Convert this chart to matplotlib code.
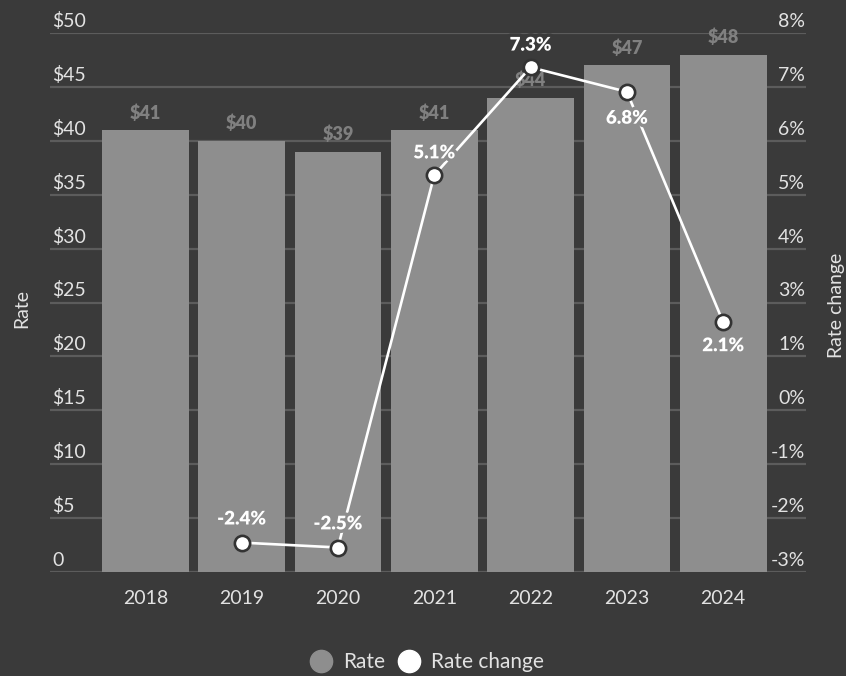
import numpy as np
import matplotlib
matplotlib.use('Agg')
import matplotlib.pyplot as plt
import matplotlib.patheffects as pe
from matplotlib.lines import Line2D
from matplotlib import transforms

years = ['2018', '2019', '2020', '2021', '2022', '2023', '2024']
rate = [41, 40, 39, 41, 44, 47, 48]
rate_change = [None, -2.4, -2.5, 5.1, 7.3, 6.8, 2.1]

rate_ticks = [0, 5, 10, 15, 20, 25, 30, 35, 40, 45, 50]
rate_tick_labels = ['0', '$5', '$10', '$15', '$20', '$25', '$30', '$35', '$40', '$45', '$50']
change_tick_labels = ['-3%', '-2%', '-1%', '0%', '1%', '3%', '4%', '5%', '6%', '7%', '8%']

BG = '#3a3a3a'
BAR = '#8e8e8e'
GRID = '#5c5c5c'
TXT = '#e2e2e2'

plt.rcParams['font.family'] = ['Lato', 'DejaVu Sans']

fig = plt.figure(figsize=(8.46, 6.76), dpi=100, facecolor=BG)
ax = fig.add_axes([50 / 846, 104 / 676, 756 / 846, 539 / 676])
ax.set_facecolor(BG)
x = np.arange(len(years))

# bars + gridlines on the left axis
ax.bar(x, rate, width=0.9, color=BAR, zorder=2)
ax.set_ylim(0, 50)
ax.set_xlim(-0.99, 6.86)
ax.set_yticks(rate_ticks)
ax.yaxis.grid(True, color=GRID, linewidth=1.6, zorder=0)
ax.set_axisbelow(True)
ax.tick_params(axis='y', length=0, labelleft=False)
ax.set_xticks(x)
ax.set_xticklabels(years, color=TXT, fontsize=14)
ax.tick_params(axis='x', length=0, pad=13)
for s in ax.spines.values():
    s.set_visible(False)

for xi, v in zip(x, rate):
    ax.annotate(f'${v}', (xi, v), xytext=(0, 6), textcoords='offset points',
                ha='center', va='bottom', color='#808080', fontsize=13,
                fontweight='heavy', zorder=3)

# y labels sit inside the plot, just above each gridline
left_tr = transforms.offset_copy(
    transforms.blended_transform_factory(ax.transAxes, ax.transData),
    fig=fig, x=2, y=3, units='dots')
for t, lab in zip(rate_ticks, rate_tick_labels):
    ax.text(0.0, t, lab, transform=left_tr, ha='left', va='bottom',
            color=TXT, fontsize=14)

ax2 = ax.twinx()
ax2.set_ylim(-3, 8)
ax2.set_yticks([])
for s in ax2.spines.values():
    s.set_visible(False)
right_tr = transforms.offset_copy(
    transforms.blended_transform_factory(ax2.transAxes, ax2.transData),
    fig=fig, x=-1, y=3, units='dots')
for t, lab in zip(np.linspace(-3, 8, len(change_tick_labels)), change_tick_labels):
    ax2.text(1.0, t, lab, transform=right_tr, ha='right', va='bottom',
             color=TXT, fontsize=14)

cx = [xi for xi, v in zip(x, rate_change) if v is not None]
cy = [v for v in rate_change if v is not None]
ax2.plot(cx, cy, color='white', linewidth=1.9, marker='o', markersize=11,
         markerfacecolor='white', markeredgecolor='#333333',
         markeredgewidth=1.9, zorder=4)

offsets = [17, 17, 16, 16, -19, -17]
for xi, v, dy in zip(cx, cy, offsets):
    # outline colour depends on whether the label lands on a bar
    left_val = (v + 3) / 11 * 50 + dy / 539 * 50 * 1.39
    under = BAR if left_val < rate[xi] else BG
    ax2.annotate(f'{v}%', (xi, v), xytext=(0, dy), textcoords='offset points',
                 ha='center', va='center', color='white', fontsize=13.5,
                 fontweight='heavy', zorder=5,
                 path_effects=[pe.withStroke(linewidth=5, foreground=under)])

fig.text(22 / 846, 1 - 308 / 676, 'Rate', rotation=90, ha='center', va='center',
         color=TXT, fontsize=14)
fig.text(836 / 846, 1 - 305 / 676, 'Rate change', rotation=90, ha='center',
         va='center', color=TXT, fontsize=14)

handles = [Line2D([], [], linestyle='none', marker='o', markersize=16,
                  markerfacecolor=BAR, markeredgecolor=BAR),
           Line2D([], [], linestyle='none', marker='o', markersize=16,
                  markerfacecolor='white', markeredgecolor='white')]
leg = fig.legend(handles, ['Rate', 'Rate change'], loc='center',
                 bbox_to_anchor=(426 / 846, 1 - 662 / 676), ncol=2, frameon=False,
                 handletextpad=0.4, columnspacing=0.5, handlelength=1.3,
                 prop={'size': 15})
for t in leg.get_texts():
    t.set_color(TXT)

fig.savefig('out.png', dpi=100, facecolor=BG)
